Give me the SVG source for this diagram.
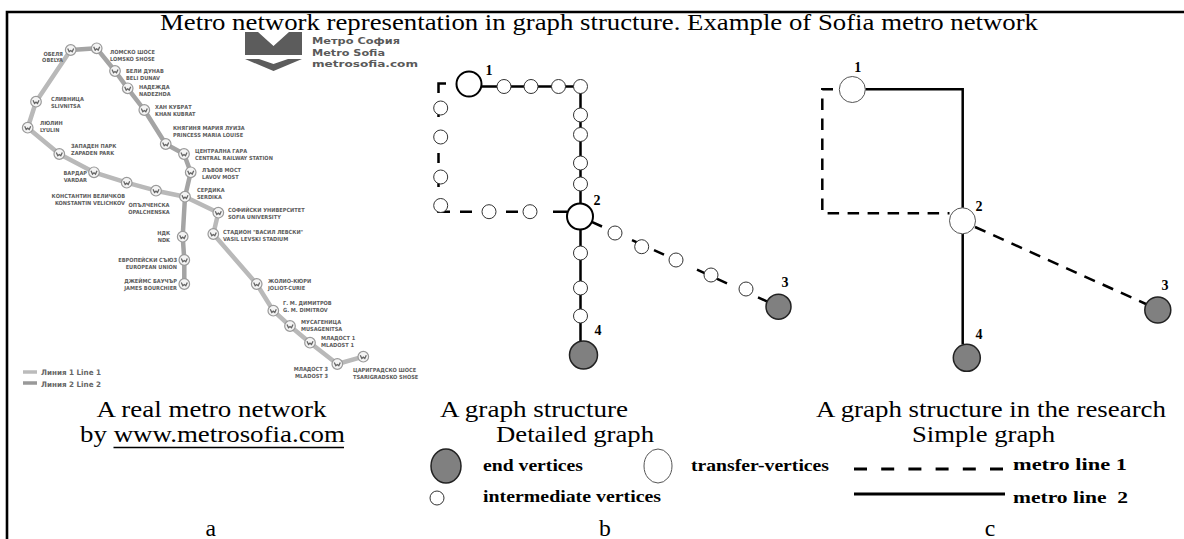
<svg xmlns="http://www.w3.org/2000/svg" width="1184" height="539" viewBox="0 0 1184 539">
<defs>
<style>
.t{font-family:"Liberation Serif","Times New Roman",serif;font-size:23.7px;fill:#000}
.lg{font-family:"Liberation Serif","Times New Roman",serif;font-size:17px;font-weight:bold;fill:#000}
.num{font-family:"Liberation Serif","Times New Roman",serif;font-size:14px;font-weight:bold;fill:#000;text-anchor:middle}
.st{font-family:"DejaVu Sans Condensed","Liberation Sans Narrow","Liberation Sans",sans-serif;font-size:5.6px;font-weight:bold;fill:#5c5c5c}
.logo{font-family:"DejaVu Sans Condensed","Liberation Sans Narrow","Liberation Sans",sans-serif;font-weight:bold;fill:#5a5a5a;font-size:9.5px}
.mleg{font-family:"DejaVu Sans Condensed","Liberation Sans Narrow","Liberation Sans",sans-serif;font-weight:bold;fill:#666;font-size:7.5px}
.ml1{fill:none;stroke:#b9b9b9;stroke-width:4.5;stroke-linejoin:round;stroke-linecap:round}
.ml2{fill:none;stroke:#a4a4a4;stroke-width:4.5;stroke-linejoin:round;stroke-linecap:round}
.solid{fill:none;stroke:#000;stroke-width:2.5}
.dash{fill:none;stroke:#000;stroke-width:2.5}
.dashp{fill:none;stroke:#000;stroke-width:2.5;stroke-dasharray:11.5 8.5}
.im{fill:#fff;stroke:#333;stroke-width:1}
.tr{fill:#fff;stroke:#000;stroke-width:2}
.tr2{fill:#fff;stroke:#555;stroke-width:1}
.end{fill:#808080;stroke:#222;stroke-width:1.5}
</style>
<g id="stn"><circle r="5.3" fill="#f4f4f4" stroke="#9a9a9a" stroke-width="1.2"/><path d="M-3,-1.5 L-1.5,1.8 L0,0.5 L1.5,1.8 L3,-1.5" fill="none" stroke="#666" stroke-width="1.3"/></g>
</defs>
<rect width="1184" height="539" fill="#fff"/>
<path d="M7,539 V12 H1184" fill="none" stroke="#000" stroke-width="2.6"/>
<text class="t" x="160" y="30" textLength="878" lengthAdjust="spacingAndGlyphs">Metro network representation in graph structure. Example of Sofia metro network</text>

<g id="metro-map">
<path class="ml1" d="M70.7,50 L36,101.7 L27.7,127.7 L59.3,154 L94,172.3 L126.7,182.7 L156,190.7 L185,196.7 L218.3,212.7 L213.3,234 L256.7,284 L273.3,310.7 L290,326 L310,342.7 L337.3,364 L363.3,356.7"/>
<path class="ml2" d="M70.7,50 L96.7,48.3 L115,71 L127.7,88.3 L144.3,110 L165.7,144 L184,154 L190.7,172.3 L185,196.7 L182.7,236.7 L184.3,260 L184.3,284"/>
<use href="#stn" x="70.7" y="50"/><use href="#stn" x="96.7" y="48.3"/><use href="#stn" x="115" y="71"/><use href="#stn" x="127.7" y="88.3"/><use href="#stn" x="144.3" y="110"/><use href="#stn" x="165.7" y="144"/><use href="#stn" x="184" y="154"/><use href="#stn" x="190.7" y="172.3"/><use href="#stn" x="185" y="196.7"/>
<use href="#stn" x="36" y="101.7"/><use href="#stn" x="27.7" y="127.7"/><use href="#stn" x="59.3" y="154"/><use href="#stn" x="94" y="172.3"/><use href="#stn" x="126.7" y="182.7"/><use href="#stn" x="156" y="190.7"/>
<use href="#stn" x="218.3" y="212.7"/><use href="#stn" x="213.3" y="234"/><use href="#stn" x="256.7" y="284"/><use href="#stn" x="273.3" y="310.7"/><use href="#stn" x="290" y="326"/><use href="#stn" x="310" y="342.7"/><use href="#stn" x="337.3" y="364"/><use href="#stn" x="363.3" y="356.7"/>
<use href="#stn" x="182.7" y="236.7"/><use href="#stn" x="184.3" y="260"/><use href="#stn" x="184.3" y="284"/>
<g class="st">
<text x="63" y="55.5" text-anchor="end">ОБЕЛЯ<tspan x="63" dy="6.5">OBELYA</tspan></text>
<text x="110" y="54">ЛОМСКО ШОСЕ<tspan x="110" dy="6.5">LOMSKO SHOSE</tspan></text>
<text x="126" y="73">БЕЛИ ДУНАВ<tspan x="126" dy="6.5">BELI DUNAV</tspan></text>
<text x="139" y="89">НАДЕЖДА<tspan x="139" dy="6.5">NADEZHDA</tspan></text>
<text x="155" y="109">ХАН КУБРАТ<tspan x="155" dy="6.5">KHAN KUBRAT</tspan></text>
<text x="173" y="130">КНЯГИНЯ МАРИЯ ЛУИЗА<tspan x="173" dy="6.5">PRINCESS MARIA LOUISE</tspan></text>
<text x="195" y="153">ЦЕНТРАЛНА ГАРА<tspan x="195" dy="6.5">CENTRAL RAILWAY STATION</tspan></text>
<text x="202" y="172">ЛЪВОВ МОСТ<tspan x="202" dy="6.5">LAVOV MOST</tspan></text>
<text x="197" y="192">СЕРДИКА<tspan x="197" dy="6.5">SERDIKA</tspan></text>
<text x="51" y="101">СЛИВНИЦА<tspan x="51" dy="6.5">SLIVNITSA</tspan></text>
<text x="40" y="125">ЛЮЛИН<tspan x="40" dy="6.5">LYULIN</tspan></text>
<text x="71" y="148">ЗАПАДЕН ПАРК<tspan x="71" dy="6.5">ZAPADEN PARK</tspan></text>
<text x="87" y="175" text-anchor="end">ВАРДАР<tspan x="87" dy="6.5">VARDAR</tspan></text>
<text x="125" y="198" text-anchor="end">КОНСТАНТИН ВЕЛИЧКОВ<tspan x="125" dy="6.5">KONSTANTIN VELICHKOV</tspan></text>
<text x="149" y="207" text-anchor="middle">ОПЪЛЧЕНСКА<tspan x="149" dy="6.5">OPALCHENSKA</tspan></text>
<text x="228" y="212">СОФИЙСКИ УНИВЕРСИТЕТ<tspan x="228" dy="6.5">SOFIA UNIVERSITY</tspan></text>
<text x="223" y="234">СТАДИОН "ВАСИЛ ЛЕВСКИ"<tspan x="223" dy="6.5">VASIL LEVSKI STADIUM</tspan></text>
<text x="170" y="235" text-anchor="end">НДК<tspan x="170" dy="6.5">NDK</tspan></text>
<text x="177" y="262" text-anchor="end">ЕВРОПЕЙСКИ СЪЮЗ<tspan x="177" dy="6.5">EUROPEAN UNION</tspan></text>
<text x="177" y="283" text-anchor="end">ДЖЕЙМС БАУЧЪР<tspan x="177" dy="6.5">JAMES BOURCHIER</tspan></text>
<text x="268" y="283">ЖОЛИО-КЮРИ<tspan x="268" dy="6.5">JOLIOT-CURIE</tspan></text>
<text x="283" y="305">Г. М. ДИМИТРОВ<tspan x="283" dy="6.5">G. M. DIMITROV</tspan></text>
<text x="301" y="324">МУСАГЕНИЦА<tspan x="301" dy="6.5">MUSAGENITSA</tspan></text>
<text x="321" y="340">МЛАДОСТ 1<tspan x="321" dy="6.5">MLADOST 1</tspan></text>
<text x="328" y="371" text-anchor="end">МЛАДОСТ 3<tspan x="328" dy="6.5">MLADOST 3</tspan></text>
<text x="353" y="372">ЦАРИГРАДСКО ШОСЕ<tspan x="353" dy="6.5">TSARIGRADSKO SHOSE</tspan></text>
</g>
<line x1="23" y1="372" x2="37" y2="372" stroke="#bbb" stroke-width="3.5"/>
<line x1="23" y1="383" x2="37" y2="383" stroke="#999" stroke-width="3.5"/>
<text class="mleg" x="41" y="375" textLength="60" lengthAdjust="spacingAndGlyphs">Линия 1 Line 1</text>
<text class="mleg" x="41" y="386.5" textLength="60" lengthAdjust="spacingAndGlyphs">Линия 2 Line 2</text>
<polygon points="245,32 258,32 273.5,46 289,32 302,32 302,55 245,55" fill="#5c5c5c"/>
<polygon points="245,59 259,59 273.5,64 288,59 302,59 273.5,71" fill="#5c5c5c"/>
<text class="logo" x="312" y="44" textLength="88" lengthAdjust="spacingAndGlyphs">Метро София</text>
<text class="logo" x="312" y="55.5" textLength="73" lengthAdjust="spacingAndGlyphs">Metro Sofia</text>
<text class="logo" x="312" y="67" fill="#8a8a8a" textLength="106" lengthAdjust="spacingAndGlyphs">metrosofia.com</text>
</g>

<g id="connectors">
<g id="detailed-edges">
<path class="solid" d="M481.5,86.5 H580.5 V348"/>
<path class="dash" d="M446,83.5 H438.5 V93 M438.5,107 V117 M438.5,153 V163 M438.5,177 V187 M438.5,203 V211.7 H450 M460,211.7 H472 M506,211.7 H518 M553,211.7 H567 M590,221.1 L602,226.5 M632,240.1 L646,246.5 M654,250.1 L664,254.7 M697,269.7 L727,283.3 M758,297.4 L768,301.9"/>
</g>
<g id="simple-edges">
<path class="solid" d="M865.3,89.3 H962.7 V208 M962.7,233.8 V344.3"/>
<path class="dashp" d="M833,89.3 H822.3 V213.3 H949.5"/>
<path class="dashp" d="M975,227 L1147,304.5"/>
</g>
</g>

<g id="detailed-graph">
<g id="d-n1"><circle class="tr" cx="469" cy="84" r="12.5"/><text class="num" x="489" y="75">1</text></g>
<g id="d-n2"><circle class="tr" cx="580" cy="216.5" r="13"/><text class="num" x="597" y="205">2</text></g>
<g id="d-n3"><circle class="end" cx="778.5" cy="306.7" r="12.5"/><text class="num" x="785" y="287">3</text></g>
<g id="d-n4"><circle class="end" cx="583.5" cy="355" r="14"/><text class="num" x="598" y="335">4</text></g>
<g id="d-i1"><circle class="im" cx="504" cy="86.5" r="7"/></g>
<g id="d-i2"><circle class="im" cx="531" cy="86.5" r="7"/></g>
<g id="d-i3"><circle class="im" cx="558.5" cy="86.5" r="7"/></g>
<g id="d-i4"><circle class="im" cx="580.5" cy="86.5" r="7"/></g>
<g id="d-i5"><circle class="im" cx="580.5" cy="115" r="7"/></g>
<g id="d-i6"><circle class="im" cx="580.5" cy="134.5" r="7"/></g>
<g id="d-i7"><circle class="im" cx="580.5" cy="163" r="7"/></g>
<g id="d-i8"><circle class="im" cx="580.5" cy="184" r="7"/></g>
<g id="d-i9"><circle class="im" cx="580.5" cy="253" r="7"/></g>
<g id="d-i10"><circle class="im" cx="580.5" cy="288" r="7"/></g>
<g id="d-i11"><circle class="im" cx="580.5" cy="316" r="7"/></g>
<g id="d-i12"><circle class="im" cx="440.7" cy="108" r="7"/></g>
<g id="d-i13"><circle class="im" cx="440.7" cy="137" r="7"/></g>
<g id="d-i14"><circle class="im" cx="440.7" cy="177" r="7"/></g>
<g id="d-i15"><circle class="im" cx="440.7" cy="205.5" r="7"/></g>
<g id="d-i16"><circle class="im" cx="489" cy="211.7" r="7"/></g>
<g id="d-i17"><circle class="im" cx="530" cy="211.7" r="7"/></g>
<g id="d-i18"><circle class="im" cx="615" cy="233" r="7"/></g>
<g id="d-i19"><circle class="im" cx="641.7" cy="246.7" r="7"/></g>
<g id="d-i20"><circle class="im" cx="676" cy="260" r="7"/></g>
<g id="d-i21"><circle class="im" cx="711" cy="275" r="7"/></g>
<g id="d-i22"><circle class="im" cx="746" cy="289" r="7"/></g>
</g>

<g id="simple-graph">
<g id="s-n1"><circle class="tr2" cx="852.3" cy="89.5" r="13"/><text class="num" x="857.7" y="71.7">1</text></g>
<g id="s-n2"><circle class="tr2" cx="962.5" cy="220.8" r="13"/><text class="num" x="979" y="210.7">2</text></g>
<g id="s-n3"><circle class="end" cx="1157.8" cy="310" r="13"/><text class="num" x="1165" y="290">3</text></g>
<g id="s-n4"><circle class="end" cx="966.8" cy="357.8" r="13.5"/><text class="num" x="979" y="339">4</text></g>
</g>

<g id="captions">
<text class="t" x="96.5" y="417" textLength="230" lengthAdjust="spacingAndGlyphs">A real metro network</text>
<text class="t" x="80" y="442" textLength="265" lengthAdjust="spacingAndGlyphs">by www.metrosofia.com</text>
<line x1="113.5" y1="447.5" x2="344" y2="447.5" stroke="#000" stroke-width="1.5"/>
<text class="t" x="210.7" y="535.5" text-anchor="middle">a</text>
<text class="t" x="440" y="417" textLength="188" lengthAdjust="spacingAndGlyphs">A graph structure</text>
<text class="t" x="496" y="442" textLength="158" lengthAdjust="spacingAndGlyphs">Detailed graph</text>
<text class="t" x="605" y="535.5" text-anchor="middle">b</text>
<text class="t" x="816" y="417" textLength="350" lengthAdjust="spacingAndGlyphs">A graph structure in the research</text>
<text class="t" x="912" y="442" textLength="143" lengthAdjust="spacingAndGlyphs">Simple graph</text>
<text class="t" x="990" y="535.5" text-anchor="middle">c</text>
</g>

<g id="legend">
<g id="lg-end"><ellipse class="end" cx="446" cy="466" rx="15" ry="17"/><text class="lg" x="483" y="471" textLength="100" lengthAdjust="spacingAndGlyphs">end vertices</text></g>
<g id="lg-transfer"><ellipse class="tr2" cx="658" cy="466" rx="14" ry="17"/><text class="lg" x="691" y="471" textLength="138" lengthAdjust="spacingAndGlyphs">transfer-vertices</text></g>
<g id="lg-inter"><circle class="im" cx="437" cy="498" r="7"/><text class="lg" x="483" y="502" textLength="178" lengthAdjust="spacingAndGlyphs">intermediate vertices</text></g>
<g id="lg-line1"><line x1="854" y1="469" x2="1003" y2="469" stroke="#000" stroke-width="3" stroke-dasharray="13 14.2"/><text class="lg" x="1013" y="470" textLength="114" lengthAdjust="spacingAndGlyphs">metro line 1</text></g>
<g id="lg-line2"><line x1="854" y1="494" x2="1005" y2="494" stroke="#000" stroke-width="3"/><text class="lg" x="1013" y="503" textLength="115" lengthAdjust="spacingAndGlyphs" style="white-space:pre">metro line  2</text></g>
</g>
</svg>
